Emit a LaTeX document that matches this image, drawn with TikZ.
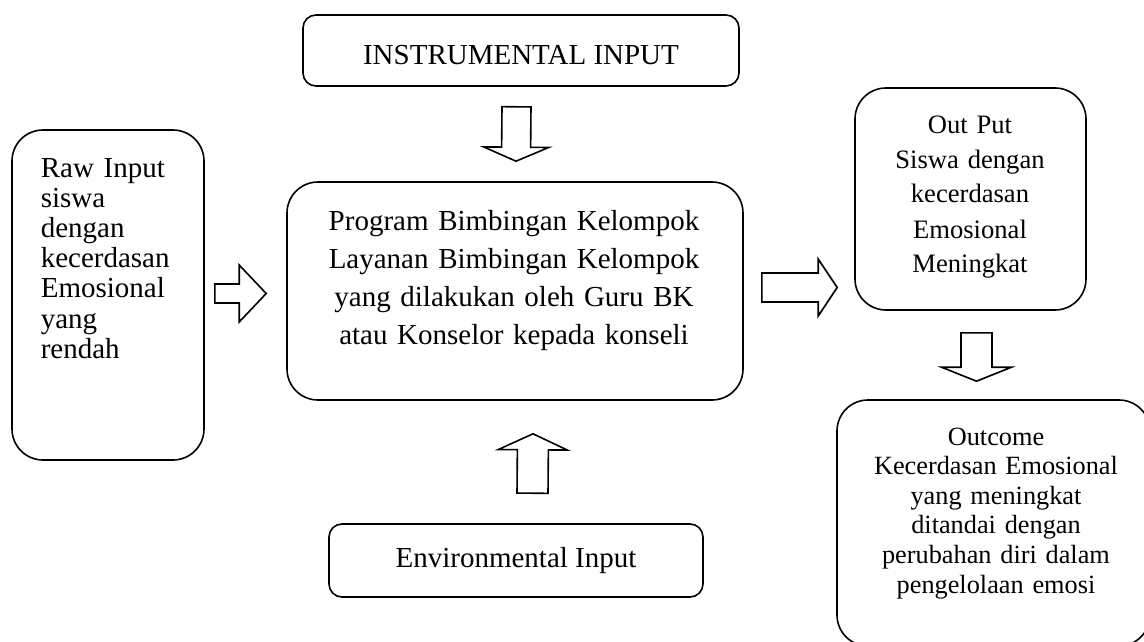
\documentclass[tikz,border=0pt]{standalone}
\usepackage{fontspec}
\setmainfont{Liberation Serif}
\usetikzlibrary{calc}
\tikzset{every picture/.style={line width=1.6pt}}
\tikzset{
  bigbox/.style={draw, rounded corners=31pt, inner sep=0pt},
  flatbox/.style={draw, rounded corners=13pt, inner sep=0pt},
  boxtext/.style={inner sep=0pt, align=center, anchor=base},
  blockarrow/.style={draw, fill=white, line join=miter}
}
% hollow block arrow: from, to, half shaft, half head, head length
\newcommand{\hollowarrow}[5]{%
  \coordinate (ba-s) at (#1);
  \coordinate (ba-e) at (#2);
  \coordinate (ba-h) at ($(ba-e)!#5!(ba-s)$);
  \draw[blockarrow] ($(ba-s)!#3!90:(ba-e)$) -- ($(ba-h)!#3!-90:(ba-s)$)
    -- ($(ba-h)!#4!-90:(ba-s)$) -- (ba-e) -- ($(ba-h)!#4!90:(ba-s)$)
    -- ($(ba-h)!#3!90:(ba-s)$) -- ($(ba-s)!#3!-90:(ba-e)$) -- cycle;
}

\begin{document}
\begin{tikzpicture}[x=1pt,y=-1pt]
    \useasboundingbox (0,0) rectangle (1144,642);

    % Boxes
    \node[flatbox, minimum width=436pt, minimum height=71pt] (instr) at (521,50.5) {};
    \node[bigbox, minimum width=192pt, minimum height=330pt] (raw) at (108,295) {};
    \node[bigbox, minimum width=456pt, minimum height=218pt] (prog) at (515,291) {};
    \node[bigbox, minimum width=231pt, minimum height=222pt] (out) at (970.5,199) {};
    \node[bigbox, minimum width=313pt, minimum height=246pt] (outc) at (993.5,523) {};
    \node[flatbox, minimum width=374pt, minimum height=73pt] (env) at (516,560.5) {};

    % Texts
    \node[boxtext, font=\fontsize{29}{30}\selectfont] (instrtxt) at (521,65) {INSTRUMENTAL INPUT};
    \node[boxtext, anchor=base west, align=left, text width=160pt,
          font=\fontsize{29}{30.2}\selectfont] (rawtxt) at (40,177)
        {Raw Input\\ siswa\\ dengan\\ kecerdasan\\ Emosional\\ yang\\ rendah};
    \node[boxtext, text width=450pt, font=\fontsize{29}{38.3}\selectfont] (progtxt) at (514,230)
        {Program Bimbingan Kelompok\\ Layanan Bimbingan Kelompok\\
         yang dilakukan oleh Guru BK\\ atau Konselor kepada konseli};
    \node[boxtext, text width=220pt, font=\fontsize{26.6}{35}\selectfont] (outtxt) at (970,133)
        {Out Put\\ Siswa dengan\\ kecerdasan\\ Emosional\\ Meningkat};
    \node[boxtext, text width=300pt, font=\fontsize{26.3}{29.6}\selectfont] (outctxt) at (996,445)
        {Outcome\\ Kecerdasan Emosional\\ yang meningkat\\ ditandai dengan\\
         perubahan diri dalam\\ pengelolaan emosi};
    \node[boxtext, font=\fontsize{29}{30}\selectfont] (envtxt) at (516,567) {Environmental Input};

    % Block arrows
    \hollowarrow{$(raw.east)+(10,-1.5)$}{$(prog.west)+(-20,2.5)$}{9.5pt}{28.5pt}{27pt}
    \hollowarrow{$(instr.south)+(-4.5,20)$}{$(prog.north)+(1,-20)$}{14.5pt}{32.5pt}{14pt}
    \hollowarrow{$(env.north)+(16.5,-30)$}{$(prog.south)+(18,33)$}{15.5pt}{34.5pt}{16pt}
    \hollowarrow{$(prog.east)+(18,-3.5)$}{$(out.west|-prog.east)+(-17,-3.5)$}{14.5pt}{28.5pt}{19pt}
    \hollowarrow{$(out.south)+(6,22)$}{$(out.south|-outc.north)+(6,-18)$}{15.5pt}{35pt}{14pt}
\end{tikzpicture}
\end{document}
